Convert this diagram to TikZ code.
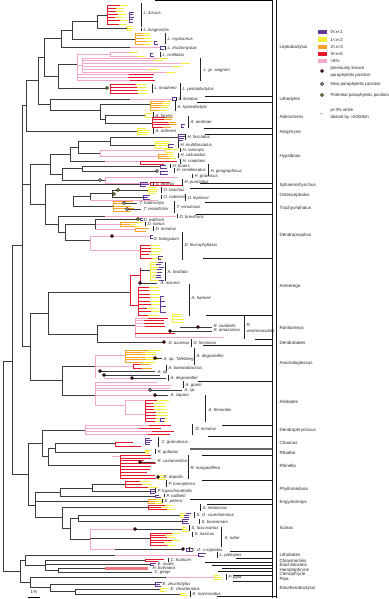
\documentclass[tikz,border=0pt]{standalone}
\usepackage{fontspec}
\setmainfont{Liberation Sans}
\definecolor{pinkc}{RGB}{242,168,206}
\definecolor{redc}{RGB}{230,22,45}
\definecolor{orangec}{RGB}{244,162,40}
\definecolor{yellowc}{RGB}{246,238,60}
\definecolor{purplec}{RGB}{96,58,150}
\definecolor{dotred}{RGB}{110,12,22}
\definecolor{dotyel}{RGB}{214,212,70}
\definecolor{bbone}{RGB}{60,60,60}
\newcommand\ft[8]{%
  \draw[#1] (#3,#4) -- (#3,#5);
  \pgfmathtruncatemacro\ftN{max(#6-1,1)}%
  \foreach \k in {0,...,\ftN}{%
    \pgfmathsetmacro\fty{#4+(#5-#4)*\k/\ftN}%
    \pgfmathsetmacro\ftl{#7*(0.55+0.45*rnd)}%
    \draw[#1] (#3,\fty) -- ++(\ftl,0);
    \draw[#2] (#3+\ftl,\fty) -- ++(#8,0);
  }%
}
\newcommand\spl[4]{\node[sp] (#1) at (#2,#3) {#4};}
\newcommand\sbar[3]{\draw[sbr] (#1,#2) -- (#1,#3);}
\newcommand\gen[3]{\node[gn] (#1) at (279,#2) {#3};}
\newcommand\sepl[2]{\draw[sepst] (#2,#1) -- (272,#1);}
\newcommand\pdot[3]{\node[prevdot] (#1) at (#2,#3) {};}
\newcommand\ndot[3]{\node[newdot] (#1) at (#2,#3) {};}
\newcommand\ydot[3]{\node[potdot] (#1) at (#2,#3) {};}
\begin{document}
\begin{tikzpicture}[x=1pt,y=-1pt,
  bk/.style={draw=bbone,line width=0.75pt},
  bpk/.style={draw=pinkc,line width=0.75pt},
  brd/.style={draw=redc,line width=0.7pt},
  bor/.style={draw=orangec,line width=0.7pt},
  byl/.style={draw=yellowc,line width=0.7pt},
  bpu/.style={draw=purplec,line width=0.6pt},
  sbr/.style={draw=black!85,line width=0.7pt},
  sepst/.style={draw=black!90,line width=0.9pt},
  sp/.style={font=\fontsize{4.3}{5}\selectfont\itshape,anchor=west,inner sep=0.3pt,text=black!85},
  gn/.style={font=\fontsize{4.5}{5}\selectfont,anchor=west,inner sep=0.3pt,text=black!85},
  lgt/.style={font=\fontsize{4.4}{5}\selectfont,anchor=west,inner sep=0.3pt,text=black!85},
  prevdot/.style={circle,draw=black,fill=dotred,inner sep=0pt,minimum size=3pt,line width=0.4pt},
  newdot/.style={circle,draw=black,fill=white,inner sep=0pt,minimum size=3pt,line width=0.7pt},
  potdot/.style={circle,draw=black,fill=dotyel,inner sep=0pt,minimum size=3pt,line width=0.6pt}]
\pgfmathsetseed{7}
\useasboundingbox[fill=white] (0,0) rectangle (388,599);

% ===== frame / double vertical =====
\draw[line width=0.8pt,black!90] (272,0) -- (272,598);
\draw[line width=0.8pt,black!90] (276,0) -- (276,598);
\draw[line width=1.4pt,black] (155,0.7) -- (272,0.7);
\draw[sepst] (217,596.5) -- (276,596.5);

% ===== Leptodactylus =====
\draw[bk] (97,15) -- (107,15);
\ft{brd}{byl}{107}{5}{24}{7}{14}{8}
\ft{bpu}{bpu}{129}{12}{22}{5}{4}{1}
\draw[bk] (97,28) -- (127,28);
\ft{byl}{byl}{127}{26}{30}{3}{6}{1}
\draw[bk] (97,15) -- (97,28);
\draw[bk] (72,21) -- (97,21);
\draw[bk] (72,21) -- (72,39);
\draw[bk] (72,39) -- (135,39);
\ft{bor}{byl}{135}{33}{44}{5}{14}{7}
\ft{bpu}{bpu}{154}{41}{44}{2}{4}{1}
\draw[bk] (61,30) -- (72,30);
\draw[bk] (61,30) -- (61,47);
\draw[bk] (61,47) -- (130,47);
\draw[bpk] (130,47) -- (160,47);
\ft{bpu}{bpu}{160}{46}{49}{2}{4}{1}
% pink clade (ocellatus, wagneri)
\draw[bk] (58,64) -- (77,64);
\draw[bpk] (77,54) -- (77,80);
\draw[bpk] (77,54) -- (110,54);
\ft{bpk}{byl}{110}{52}{56}{2}{30}{8}
\ft{bpu}{bpu}{150}{53}{56}{2}{3}{1}
\draw[bpk] (77,65) -- (82,65);
\ft{bpk}{byl}{82}{58}{72}{6}{100}{9}
\ft{bpk}{brd}{77}{74}{80}{3}{55}{25}
% knudseni
\draw[bk] (58,88) -- (107,88);
\ft{brd}{byl}{110}{84}{93}{4}{40}{10}
\ydot{dk1}{107}{88}
\draw[bk] (58,64) -- (58,88);
\draw[bk] (44,38) -- (61,38);
\draw[bk] (44,38) -- (44,76);
\draw[bk] (44,76) -- (58,76);
% lineatus
\draw[bk] (50,99) -- (130,99);
\draw[bpk] (130,99) -- (172,99);
\ft{bpu}{bpu}{172}{97}{100}{2}{3}{1}
% Adenomera
\draw[bk] (50,99) -- (50,110);
\draw[bk] (50,110) -- (100,110);
\draw[bk] (100,104) -- (100,119);
\draw[bk] (100,104) -- (150,104);
\ft{bor}{byl}{150}{101}{110}{5}{14}{8}
\draw[bk] (100,119) -- (105,119);
\draw[bk] (105,115) -- (105,123);
\draw[bk] (105,115) -- (145,115);
\ft{byl}{byl}{145}{113}{117}{2}{8}{1}
\draw[bk] (105,123) -- (152,123);
\ft{brd}{bor}{152}{117}{127}{5}{18}{8}
\ft{bpu}{bpu}{181}{124}{127}{2}{3}{1}
\draw[bk] (38,57) -- (44,57);
\draw[bk] (38,57) -- (38,104);
\draw[bk] (38,104) -- (50,104);
% Allophryne
\draw[bk] (26,131) -- (137,131);
\ft{byl}{byl}{137}{128}{134}{4}{12}{1}
\draw[bk] (26,80) -- (38,80);
\draw[bk] (26,80) -- (26,131);

% ===== Hypsiboas =====
\draw[bk] (110,137) -- (178,137);
\ft{bpu}{bpu}{178}{134}{140}{4}{7}{1}
\draw[bk] (110,145) -- (155,145);
\ft{byl}{byl}{155}{141}{148}{4}{15}{1}
\ft{bpu}{bpu}{168}{144}{147}{2}{6}{1}
\draw[bk] (110,137) -- (110,145);
\draw[bpk] (100,150) -- (165,150);
\ft{byl}{byl}{165}{149}{152}{2}{12}{1}
\draw[bpk] (100,156) -- (158,156);
\ft{bor}{byl}{158}{154}{158}{3}{14}{6}
\draw[bpk] (100,150) -- (100,156);
\draw[bk] (78,141) -- (110,141);
\draw[bk] (78,153) -- (100,153);
\draw[bk] (78,141) -- (78,153);
\draw[bk] (70,147) -- (78,147);
\draw[bk] (70,147) -- (70,161);
\draw[bk] (70,161) -- (105,161);
\draw[bpk] (105,161) -- (140,161);
\ft{brd}{brd}{140}{161}{164}{2}{40}{1}
\draw[bk] (82,166) -- (160,166);
\ft{bpu}{bpu}{160}{165}{168}{2}{8}{1}
\draw[bk] (82,171) -- (157,171);
\ft{bpu}{bpu}{160}{171}{174}{2}{8}{1}
\ndot{dh1}{157}{171}
\draw[bk] (82,166) -- (82,171);
\draw[bpk] (105,177) -- (105,183);
\draw[bpk] (105,177) -- (178,177);
\draw[bpk] (105,183) -- (150,183);
\ft{brd}{brd}{150}{182}{185}{2}{32}{1}
\draw[bk] (62,180) -- (105,180);
\ndot{dh2}{100}{180}
\draw[bk] (62,168) -- (82,168);
\draw[bk] (62,168) -- (62,180);
\draw[bk] (50,154) -- (70,154);
\draw[bk] (50,154) -- (50,174);
\draw[bk] (50,174) -- (62,174);

% ===== Sphaenorhynchus / Osteocephalus / Trachycephalus / Dendropsophus =====
\draw[bk] (45,184) -- (140,184);
\ft{bpu}{bpu}{140}{182}{186}{3}{8}{1}
\draw[bk] (112,190) -- (148,190);
\ft{byl}{byl}{148}{187}{193}{4}{12}{1}
\draw[bk] (112,197) -- (143,197);
\ft{bpu}{bpu}{143}{195}{199}{3}{7}{1}
\draw[bk] (112,190) -- (112,197);
\ydot{do1}{118}{190}
\ydot{do2}{114}{194}
\draw[bk] (90,193) -- (112,193);
\draw[bpk] (90,200) -- (158,200);
\draw[bk] (90,193) -- (90,200);
\ft{bor}{bor}{113}{201}{211}{5}{22}{1}
\draw[bk] (124,203) -- (137,203);
\draw[bk] (127,209) -- (141,209);
\ndot{dt1}{124}{203}
\ndot{dt2}{127}{209}
\draw[bk] (73,196) -- (90,196);
\draw[bk] (73,196) -- (73,206);
\draw[bk] (73,206) -- (113,206);
\draw[bk] (58,216) -- (105,216);
\draw[bpk] (105,216) -- (176,216);
\draw[bk] (95,219) -- (138,219);
\ydot{dd1}{138}{219}
\ft{bpu}{bpu}{140}{218}{220}{2}{3}{1}
\draw[bpk] (95,224) -- (120,224);
\ft{bor}{byl}{120}{222}{226}{3}{18}{6}
\draw[bpk] (95,229) -- (135,229);
\ft{bor}{bor}{135}{228}{231}{2}{15}{1}
\draw[bk] (95,219) -- (95,229);
\draw[bk] (65,240) -- (90,240);
\draw[bpk] (90,236) -- (90,250);
\draw[bpk] (90,236) -- (150,236);
\ft{bpu}{bpu}{150}{235}{238}{2}{4}{1}
\pdot{dd2}{112}{236}
\draw[bpk] (90,250) -- (140,250);
\ft{brd}{byl}{140}{245}{258}{5}{15}{10}
\ft{bpu}{bpu}{158}{256}{259}{2}{4}{1}
\draw[bk] (65,224) -- (95,224);
\draw[bk] (65,224) -- (65,240);
\draw[bk] (58,216) -- (58,232);
\draw[bk] (58,232) -- (65,232);
\draw[bk] (45,184) -- (45,224);
\draw[bk] (45,224) -- (58,224);
\draw[bk] (30,164) -- (50,164);
\draw[bk] (30,164) -- (30,204);
\draw[bk] (30,204) -- (45,204);
\draw[bk] (22,105) -- (26,105);
\draw[bk] (22,105) -- (22,184);
\draw[bk] (22,184) -- (30,184);

% ===== Ameerega =====
\draw[bk] (48,292) -- (130,292);
\draw[brd] (130,275) -- (130,305);
\draw[brd] (130,275) -- (140,275);
\draw[brd] (140,268) -- (140,283);
\draw[bk] (140,270) -- (150,270);
\ft{byl}{bpu}{150}{262}{280}{8}{10}{5}
\draw[bk] (140,283) -- (157,283);
\pdot{da1}{140}{283}
\draw[brd] (130,305) -- (138,305);
\ft{brd}{byl}{138}{287}{315}{9}{16}{10}
\ft{bpu}{bpu}{160}{296}{312}{4}{5}{1}
% Ranitomeya
\draw[bk] (97,325) -- (135,325);
\draw[bpk] (135,318) -- (135,337);
\ft{bpk}{brd}{135}{318}{326}{4}{15}{20}
\ft{byl}{byl}{172}{314}{322}{4}{12}{1}
\draw[bk] (180,327) -- (212,327);
\draw[bk] (170,331) -- (212,331);
\draw[brd] (135,333) -- (175,333);
\draw[bpk] (135,337) -- (224,337);
\pdot{dr1}{198}{327}
\pdot{dr2}{170}{331}
% Dendrobates
\draw[bk] (97,342) -- (163,342);
\pdot{db1}{164}{342}
\draw[bk] (97,325) -- (97,342);
\draw[bk] (48,334) -- (97,334);
\draw[bk] (48,292) -- (48,334);
% Anomaloglossus
\draw[bpk] (95,355) -- (95,378);
\draw[bpk] (95,355) -- (125,355);
\ft{bor}{byl}{125}{350}{362}{6}{25}{12}
\draw[bk] (155,358) -- (162,358);
\pdot{dn1}{155}{358}
\draw[bpk] (95,366) -- (133,366);
\ft{brd}{bor}{133}{364}{368}{2}{12}{10}
\draw[bk] (100,371) -- (155,371);
\draw[bk] (104,375) -- (160,375);
\draw[bpk] (104,378) -- (132,378);
\draw[bk] (132,378) -- (166,378);
\pdot{dn2}{100}{371}
\pdot{dn3}{104}{375}
\pdot{dn4}{132}{378}
\draw[bk] (62,366) -- (95,366);
% Allobates
\draw[bpk] (95,385) -- (95,405);
\ft{bpk}{bpk}{95}{382}{388}{3}{85}{1}
\draw[bpk] (95,390) -- (150,390);
\draw[bk] (150,390) -- (182,390);
\ndot{dl1}{150}{390}
\draw[bk] (155,395) -- (168,395);
\draw[bpk] (95,395) -- (155,395);
\pdot{dl2}{155}{395}
\draw[bpk] (95,405) -- (125,405);
\draw[bpk] (125,400) -- (125,414);
\draw[bpk] (125,400) -- (145,400);
\ft{brd}{byl}{145}{400}{421}{8}{15}{12}
\draw[bpk] (125,414) -- (145,414);
\ft{bpu}{bpu}{160}{418}{421}{2}{4}{1}
\draw[bk] (62,395) -- (95,395);
\draw[bk] (62,366) -- (62,395);
\draw[bk] (30,313) -- (48,313);
\draw[bk] (30,380) -- (62,380);
\draw[bk] (30,313) -- (30,380);
\draw[bk] (22,145) -- (22,346);
\draw[bk] (22,346) -- (30,346);

% ===== Bufonidae =====
\draw[bk] (42,430) -- (85,430);
\ft{bpk}{brd}{85}{425}{434}{4}{75}{22}
\draw[bk] (55,443) -- (115,443);
\ft{brd}{brd}{115}{442}{446}{2}{30}{1}
\ft{bpu}{bpu}{145}{438}{444}{4}{6}{1}
\draw[bk] (55,452) -- (145,452);
\ft{byl}{byl}{145}{450}{453}{3}{5}{1}
\draw[bk] (55,443) -- (55,452);
\draw[bk] (48,448) -- (55,448);
\draw[bk] (48,448) -- (48,465);
\draw[bk] (48,465) -- (120,465);
\ft{brd}{brd}{120}{455}{478}{9}{40}{1}
\draw[bpk] (112,456) -- (120,456);
\draw[bk] (140,462) -- (155,462);
\pdot{du1}{140}{462}
\ft{byl}{byl}{158}{475}{479}{3}{7}{1}
\pdot{du2}{158}{477}
\draw[bk] (42,456) -- (48,456);
\draw[bk] (42,430) -- (42,456);

% ===== Phyllomedusa / Engystomops / Scinax =====
\draw[bk] (92,484) -- (125,484);
\ft{brd}{byl}{125}{481}{487}{3}{25}{10}
\draw[bk] (92,491) -- (150,491);
\ft{bpu}{bpu}{150}{489}{493}{3}{5}{1}
\draw[bk] (92,484) -- (92,491);
\draw[bk] (60,488) -- (92,488);
\draw[bk] (60,496) -- (155,496);
\ft{bpu}{bpu}{155}{495}{497}{2}{5}{1}
\draw[bk] (60,488) -- (60,496);
\draw[bk] (55,501) -- (148,501);
\ft{bor}{byl}{148}{499}{503}{3}{12}{8}
\draw[bk] (62,507) -- (148,507);
\ft{brd}{byl}{148}{505}{509}{3}{20}{8}
\draw[bk] (78,515) -- (180,515);
\ft{byl}{bpu}{180}{513}{517}{3}{6}{5}
\draw[bk] (78,521) -- (182,521);
\ft{bpu}{bpu}{182}{519}{523}{3}{6}{1}
\draw[bk] (78,515) -- (78,521);
\draw[bpk] (90,529) -- (90,549);
\draw[bpk] (90,529) -- (135,529);
\draw[bk] (135,529) -- (182,529);
\ft{byl}{byl}{182}{527}{531}{3}{6}{1}
\pdot{ds1}{135}{529}
\draw[bk] (90,538) -- (150,538);
\ft{brd}{byl}{150}{533}{545}{6}{22}{8}
\draw[bpk] (90,549) -- (115,549);
\draw[bk] (115,549) -- (183,549);
\ft{bpu}{bpu}{186}{548}{551}{2}{6}{1}
\pdot{ds2}{183}{549}
\draw[bk] (70,518) -- (78,518);
\draw[bk] (70,518) -- (70,539);
\draw[bk] (70,539) -- (90,539);
\draw[bk] (62,507) -- (62,528);
\draw[bk] (62,528) -- (70,528);
\draw[bk] (35,492) -- (60,492);
\draw[bk] (35,501) -- (55,501);
\draw[bk] (35,517) -- (62,517);
\draw[bk] (35,492) -- (35,517);
\draw[bk] (28,443) -- (42,443);
\draw[bk] (28,505) -- (35,505);
\draw[bk] (28,443) -- (28,505);
\draw[bk] (12,245) -- (22,245);
\draw[bk] (12,474) -- (28,474);
\draw[bk] (12,245) -- (12,474);

% ===== Lithobates, microhylids, Pipa, Eleutherodactylus =====
\draw[bk] (25,555) -- (115,555);
\draw[bpk] (115,555) -- (200,555);
\ft{bpu}{bpu}{198}{553}{556}{2}{8}{1}
\draw[bk] (45,560) -- (145,560);
\ft{brd}{brd}{145}{559}{561}{2}{18}{1}
\draw[bk] (45,564) -- (150,564);
\ft{bpu}{bpu}{150}{563}{565}{2}{5}{1}
\draw[bk] (58,568) -- (105,568);
\fill[redc!60] (105,566.5) rectangle (148,569.5);
\draw[bk] (58,572) -- (152,572);
\draw[bk] (58,568) -- (58,572);
\draw[bk] (45,570) -- (58,570);
\draw[bk] (45,560) -- (45,570);
\draw[bk] (25,565) -- (45,565);
\draw[bk] (25,555) -- (25,565);
\draw[bk] (30,577) -- (166,577);
\draw[bpk] (166,577) -- (214,577);
\ft{byl}{byl}{214}{575}{579}{3}{8}{1}
\draw[bk] (50,584) -- (155,584);
\ft{bpu}{bpu}{155}{582}{586}{3}{6}{1}
\draw[bk] (75,589) -- (160,589);
\ft{byl}{byl}{160}{588}{591}{2}{8}{1}
\draw[bk] (75,594) -- (180,594);
\ft{byl}{byl}{180}{593}{595}{2}{8}{1}
\draw[bk] (75,589) -- (75,594);
\draw[bk] (50,591) -- (75,591);
\draw[bk] (50,584) -- (50,591);
\draw[bk] (30,587) -- (50,587);
\draw[bk] (30,577) -- (30,587);
\draw[bk] (20,560) -- (25,560);
\draw[bk] (20,582) -- (30,582);
\draw[bk] (20,560) -- (20,582);
\draw[bk] (3,361) -- (12,361);
\draw[bk] (3,571) -- (20,571);
\draw[bk] (3,361) -- (3,571);

% ===== species bars and labels =====
\sbar{141}{3}{27}      \spl{s1}{143}{13}{L. fuscus}
\sbar{141}{28}{31}     \spl{s2}{143}{30}{L. longirostris}
\sbar{165}{33}{44}     \spl{s3}{167}{39}{L. mystaceus}
\sbar{165}{46}{50}     \spl{s4}{167}{48}{L. rhodomystax}
\sbar{160}{52}{57}     \spl{s5}{162}{55}{L. ocellatus}
\sbar{200}{58}{81}     \spl{s6}{203}{70}{L. gr. wagneri}
\sbar{152}{84}{93}     \spl{s7}{154}{88}{L. knudseni}
\sbar{180}{83}{100}    \spl{s8}{182}{89}{L. pentadactylus}
\sbar{176}{97}{101}    \spl{s9}{178}{99}{L. lineatus}
\sbar{175}{101}{111}   \spl{s10}{177}{107}{A. hylaedactyla}
\sbar{153}{112}{118}   \spl{s11}{155}{116}{A. heyeri}
\sbar{188}{116}{128}   \spl{s12}{190}{122}{A. andreae}
\sbar{153}{128}{134}   \spl{s13}{155}{131}{A. ruthveni}
\sbar{185}{134}{140}   \spl{s14}{187}{137}{H. fasciatus}
\sbar{178}{141}{148}   \spl{s15}{180}{145}{H. multifasciatus}
\sbar{180}{148}{152}   \spl{s16}{182}{150}{H. raniceps}
\sbar{178}{153}{158}   \spl{s17}{180}{155}{H. calcaratus}
\sbar{180}{159}{164}   \spl{s18}{182}{161}{H. crepitans}
\sbar{170}{164}{168}   \spl{s19}{172}{166}{H. boans}
\sbar{174}{168}{173}   \spl{s20}{176}{170}{H. semilineatus}
\sbar{208}{164}{176}   \spl{s21}{210}{171}{H. geographicus}
\sbar{192}{174}{178}   \spl{s22}{194}{176}{H. granosus}
\sbar{182}{179}{186}   \spl{s23}{184}{182}{H. punctatus}
\sbar{153}{182}{186}   \spl{s24}{155}{184}{S. lacteus}
\sbar{161}{187}{193}   \spl{s25}{163}{190}{O. taurinus}
\sbar{161}{195}{199}   \spl{s26}{163}{197}{O. cabrerai}
\sbar{185}{194}{201}   \spl{s27}{187}{198}{O. leprieuri}
\spl{s28}{139}{203}{T. hadroceps}
\spl{s29}{143}{209}{T. resinifictrix}
\sbar{174}{201}{213}   \spl{s30}{176}{207}{T. venulosus}
\sbar{177}{214}{218}   \spl{s31}{179}{217}{D. brevifrons}
\spl{s32}{143}{220}{D. walfordi}
\sbar{145}{222}{226}   \spl{s33}{147}{224}{D. nanus}
\sbar{153}{226}{231}   \spl{s34}{155}{229}{D. minutus}
\spl{s35}{153}{239}{D. triangulum}
\sbar{182}{232}{260}   \spl{s36}{184}{245}{D. leucophyllatus}
\sbar{165}{262}{281}   \spl{s37}{167}{272}{A. trivittata}
\spl{s38}{160}{283}{A. macero}
\sbar{189}{284}{316}   \spl{s39}{191}{298}{A. hahneli}
\spl{s40}{213}{326}{R. variabilis}
\spl{s41}{213}{330}{R. amazonica}
\sbar{244}{315}{339}   \spl{s42}{246}{325}{R.} \spl{s43}{246}{331}{ventrimaculata}
\spl{s44}{168}{343}{D. azureus}
\sbar{191}{339}{347}   \spl{s45}{193}{343}{D. tinctorius}
\sbar{194}{348}{365}   \spl{s46}{196}{356}{A. degranvillei}
\spl{s47}{163}{359}{A. sp. Tafelberg}
\sbar{166}{365}{371}   \spl{s48}{168}{368}{A. baeobatrachus}
\spl{s49}{157}{372}{A. sp.}
\sbar{168}{375}{381}   \spl{s50}{170}{378}{A. degranvillei}
\sbar{183}{381}{388}   \spl{s51}{185}{385}{A. granti}
\spl{s52}{184}{390}{A. sp.}
\spl{s53}{170}{395}{A. zaparo}
\sbar{205}{395}{422}   \spl{s54}{208}{410}{A. femoralis}
\sbar{192}{424}{435}   \spl{s55}{195}{429}{D. minutus}
\sbar{158}{437}{447}   \spl{s56}{161}{442}{C. granulosus}
\sbar{155}{449}{454}   \spl{s57}{157}{452}{R. guttatus}
\spl{s58}{157}{461}{R. castaneotica}
\sbar{188}{455}{479}   \spl{s59}{190}{468}{R. margaritifera}
\spl{s60}{163}{477}{R. dapsilis}
\sbar{166}{480}{487}   \spl{s61}{168}{484}{P. tomopterna}
\sbar{155}{488}{493}   \spl{s62}{157}{491}{P. hypochondrialis}
\sbar{164}{494}{497}   \spl{s63}{166}{496}{P. vaillanti}
\sbar{162}{499}{503}   \spl{s64}{164}{501}{E. petersi}
\sbar{200}{504}{511}   \spl{s65}{202}{508}{S. nebulosus}
\sbar{194}{512}{518}   \spl{s66}{196}{515}{S. cf. cruentommus}
\sbar{199}{519}{524}   \spl{s67}{201}{522}{S. boesemani}
\sbar{189}{525}{531}   \spl{s68}{191}{528}{S. fuscovarius}
\sbar{192}{532}{537}   \spl{s69}{194}{534}{S. nasicus}
\sbar{221}{527}{547}   \spl{s70}{224}{538}{S. ruber}
\sbar{189}{547}{552}   \spl{s71}{191}{550}{S. cf. x-signatus}
\sbar{217}{552}{558}   \spl{s72}{219}{555}{L. palmipes}
\sbar{168}{558}{562}   \spl{s73}{170}{560}{C. hudsoni}
\spl{s74}{157}{564}{E. ovalis}
\spl{s75}{152}{568}{H. boliviana}
\spl{s76}{154}{572}{C. geayi}
\sbar{226}{574}{580}   \spl{s77}{228}{577}{P. pipa}
\spl{s78}{162}{584}{E. zeuchotylus}
\spl{s79}{170}{589}{E. chiastonotus}
\sbar{190}{591}{597}   \spl{s80}{192}{594}{E. marmoratus}

% ===== genus separators =====
\sepl{96}{205}  \sepl{102}{197} \sepl{128}{204} \sepl{134}{205}
\sepl{183}{200} \sepl{188}{190} \sepl{202}{205} \sepl{214}{196}
\sepl{258}{203} \sepl{315}{206} \sepl{339}{255} \sepl{345}{203}
\sepl{381}{198} \sepl{425}{222} \sepl{436}{208}
\draw[line width=1.1pt,black!60] (190,449) -- (272,449);
\sepl{455}{202} \sepl{480}{202} \sepl{499}{190} \sepl{504}{207}
\sepl{551}{230} \sepl{558}{236} \sepl{562}{205} \sepl{565}{212}
\sepl{568}{222} \sepl{571}{218} \sepl{575}{233} \sepl{581}{233}

% ===== genus labels =====
\gen{g1}{47}{Leptodactylus}
\gen{g2}{99}{Lithodytes}
\gen{g3}{117}{Adenomera}
\gen{g4}{132}{Allophryne}
\gen{g5}{156}{Hypsiboas}
\gen{g6}{185}{Sphaenorhynchus}
\gen{g7}{195}{Osteocephalus}
\gen{g8}{208}{Trachycephalus}
\gen{g9}{235}{Dendropsophus}
\gen{g10}{286}{Ameerega}
\gen{g11}{328}{Ranitomeya}
\gen{g12}{343}{Dendrobates}
\gen{g13}{363}{Anomaloglossus}
\gen{g14}{402}{Allobates}
\gen{g15}{430}{Dendrophryniscus}
\gen{g16}{443}{Chaunus}
\gen{g17}{453}{Rhaebo}
\gen{g18}{466}{Rhinella}
\gen{g19}{489}{Phyllomedusa}
\gen{g20}{502}{Engystomops}
\gen{g21}{528}{Scinax}
\gen{g22}{555}{Lithobates}
\gen{g23}{561}{Chiasmocleis}
\gen{g24}{565}{Elachistocleis}
\gen{g25}{570}{Hamptophryne}
\gen{g26}{574}{Ctenophryne}
\gen{g27}{579}{Pipa}
\gen{g28}{588}{Eleutherodactylus}

% ===== legend =====
\fill[purplec] (318,30) rectangle (327,34.5);
\fill[yellowc] (318,37.5) rectangle (327,42);
\fill[orangec] (318,45) rectangle (327,49.5);
\fill[redc] (318,52) rectangle (327,56.5);
\fill[pinkc] (318,59) rectangle (327,63.5);
\node[lgt] (l1) at (330,32) {0<x<1};
\node[lgt] (l2) at (330,40) {1<x<2};
\node[lgt] (l3) at (330,47) {2<x<3};
\node[lgt] (l4) at (330,54) {3<x<6};
\node[lgt] (l5) at (330,61) {>6\%};
\pdot{lg1}{322}{71}
\node[lgt] (l6) at (330,68) {previously known};
\node[lgt] (l7) at (330,75) {paraphyletic position};
\ndot{lg2}{322}{84}
\node[lgt] (l8) at (330,84) {New paraphyletic position};
\ydot{lg3}{322}{95}
\node[lgt] (l9) at (330,95) {Potential paraphyletic position};
\node[lgt] (l10) at (320,115) {*};
\node[lgt] (l11) at (330,110) {p<3\% while};
\node[lgt] (l12) at (330,117) {distant by >2000km};

% ===== scale bar =====
\draw[line width=0.7pt] (28,597) -- (40,597);
\node[gn,anchor=center] (sc) at (34,592) {1\%};
\end{tikzpicture}
\end{document}
